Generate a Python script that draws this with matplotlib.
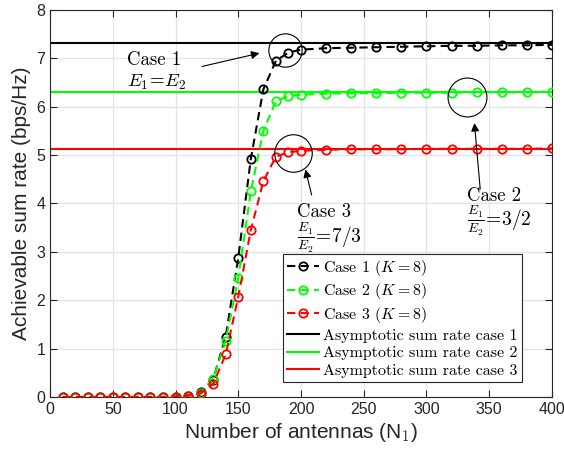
import numpy as np
import matplotlib
matplotlib.use('Agg')
import matplotlib.pyplot as plt

plt.rcParams['mathtext.fontset'] = 'cm'
plt.rcParams['font.family'] = ['Liberation Sans', 'DejaVu Sans']

# Number of antennas
n_antennas = [10, 20, 30, 40, 50, 60, 70, 80, 90, 100,
              110, 120, 130, 140, 150, 160, 170, 180, 190, 200,
              220, 240, 260, 280, 300, 320, 340, 360, 380, 400]

# Achievable sum rate (bps/Hz), K = 8
case1 = [0.0, 0.0, 0.0, 0.0, 0.0, 0.0, 0.0, 0.0, 0.0, 0.01,
         0.03, 0.10, 0.36, 1.25, 2.88, 4.92, 6.36, 6.95, 7.12, 7.18,
         7.21, 7.22, 7.23, 7.24, 7.25, 7.26, 7.26, 7.27, 7.27, 7.28]
case2 = [0.0, 0.0, 0.0, 0.0, 0.0, 0.0, 0.0, 0.0, 0.0, 0.01,
         0.03, 0.08, 0.38, 1.16, 2.46, 4.25, 5.50, 6.12, 6.22, 6.25,
         6.27, 6.28, 6.28, 6.29, 6.29, 6.29, 6.30, 6.30, 6.30, 6.31]
case3 = [0.0, 0.0, 0.0, 0.0, 0.0, 0.0, 0.0, 0.0, 0.0, 0.01,
         0.03, 0.07, 0.27, 0.88, 2.07, 3.45, 4.46, 4.97, 5.06, 5.09,
         5.11, 5.12, 5.12, 5.12, 5.13, 5.13, 5.13, 5.13, 5.13, 5.14]

# Asymptotic sum rates
asym = [7.31, 6.30, 5.13]

colors = ['k', (0, 1, 0), (1, 0, 0)]
case_labels = [r'Case 1 ($K=8$)', r'Case 2 ($K=8$)', r'Case 3 ($K=8$)']
asym_labels = ['Asymptotic sum rate case 1', 'Asymptotic sum rate case 2',
               'Asymptotic sum rate case 3']

fig = plt.figure(figsize=(5.64, 4.58), dpi=100)
ax = fig.add_axes([0.0887, 0.1332, 0.89, 0.845])

handles = []
for ys, c, lab in zip([case1, case2, case3], colors, case_labels):
    h, = ax.plot(n_antennas, ys, '--o', color=c, lw=1.5, dashes=(4, 2.5),
                 ms=6, mfc='none', mec=c, mew=1.3, label=lab, zorder=3)
    handles.append(h)
for a, c, lab in zip(asym, colors, asym_labels):
    h, = ax.plot([0, 400], [a, a], '-', color=c, lw=1.5, label=lab, zorder=2)
    handles.append(h)

ax.set_xlim(0, 400)
ax.set_ylim(0, 8)
ax.set_xticks(np.arange(0, 401, 50))
ax.set_yticks(np.arange(0, 9, 1))
ax.grid(True, color='#e3e3e3', lw=0.9)
ax.set_axisbelow(True)
ax.tick_params(direction='in', top=True, right=True, length=5, width=0.8,
               labelsize=11.5, colors='#262626', labelcolor='#262626')
for s in ax.spines.values():
    s.set_color('#262626')
    s.set_linewidth(0.8)

ax.set_xlabel(r'Number of antennas (N$_1$)', fontsize=15, color='#262626', labelpad=3)
ax.set_ylabel('Achievable sum rate (bps/Hz)', fontsize=15, color='#262626', labelpad=4)

# annotation circles and arrows
for cx, cy, d in [(187, 7.17, 24), (194, 5.05, 27), (332, 6.20, 28)]:
    ax.plot(cx, cy, 'o', ms=d, mfc='none', mec='k', mew=0.8, zorder=4)

arrow = dict(arrowstyle='-|>', color='k', lw=0.8, mutation_scale=12)
ax.annotate('', xy=(169, 7.12), xytext=(119, 6.82), arrowprops=arrow)
ax.annotate('', xy=(203, 4.76), xytext=(209, 4.12), arrowprops=arrow)
ax.annotate('', xy=(338, 5.72), xytext=(343, 4.24), arrowprops=arrow)

tfont = dict(family='cmr10', fontsize=13.5, color='k')
ax.text(61, 6.96, 'Case 1', va='center', ha='left', **tfont)
ax.text(61, 6.50, r'$E_1\!=\!E_2$', va='center', ha='left', fontsize=13.5)
ax.text(197, 3.82, 'Case 3', va='center', ha='left', **tfont)
ax.text(197, 3.30, r'$\frac{E_1}{E_2}\!=\!7/3$', va='center', ha='left', fontsize=14)
ax.text(332, 4.16, 'Case 2', va='center', ha='left', **tfont)
ax.text(332, 3.64, r'$\frac{E_1}{E_2}\!=\!3/2$', va='center', ha='left', fontsize=14)

leg = ax.legend(handles=handles, loc='lower right', bbox_to_anchor=(0.940, 0.039),
                prop={'family': 'cmr10', 'size': 11.5}, numpoints=1,
                fancybox=False, framealpha=1, edgecolor='#262626',
                borderaxespad=0, borderpad=0.25, labelspacing=0.22,
                handlelength=2.04, handletextpad=0.26)
leg.get_frame().set_linewidth(0.8)

fig.savefig('out.png', dpi=100)
